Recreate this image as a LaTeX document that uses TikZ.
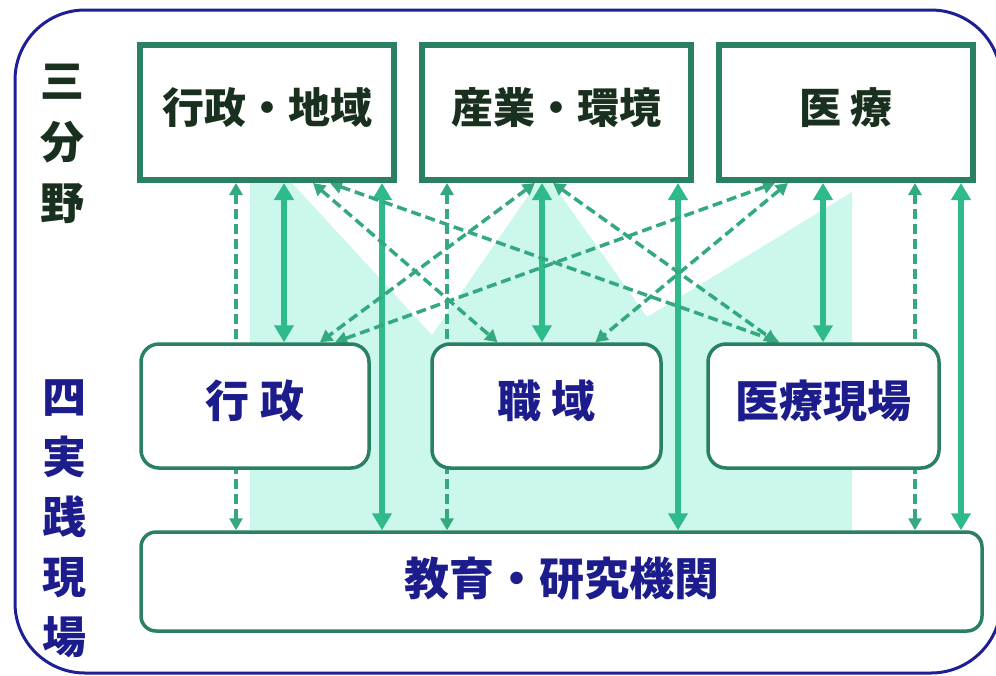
\documentclass[tikz,border=0pt]{standalone}
\usepackage{fontspec}
\newfontfamily\jp{Noto Sans CJK JP}
\usetikzlibrary{arrows.meta}

\definecolor{framenavy}{RGB}{30,30,150}
\definecolor{boxgreen}{RGB}{42,128,98}
\definecolor{arrowgreen}{RGB}{46,186,138}
\definecolor{dashgreen}{RGB}{52,168,126}
\definecolor{mint}{RGB}{204,247,237}
\definecolor{textgreen}{RGB}{25,48,30}
\definecolor{textnavy}{RGB}{28,28,140}

\pgfdeclarelayer{back}
\pgfdeclarelayer{links}
\pgfsetlayers{back,links,main}

\begin{document}
\begin{tikzpicture}[x=1pt,y=-1pt,
    field/.style={draw=boxgreen, line width=6pt, fill=white, minimum height=135pt,
      inner sep=0pt, text depth=13pt, text=textgreen,
      font=\jp\bfseries\fontsize{42}{42}\selectfont},
    site/.style={draw=boxgreen, line width=3.5pt, fill=white, rounded corners=18pt,
      minimum height=124pt, inner sep=0pt, text depth=15pt, text=textnavy,
      font=\jp\bfseries\fontsize{44}{44}\selectfont},
    solidarr/.style={draw=arrowgreen, line width=5.5pt,
      {Triangle[length=17pt,width=19pt]}-{Triangle[length=17pt,width=19pt]}},
    dasharr/.style={draw=dashgreen, line width=3.5pt, dash pattern=on 10pt off 5pt,
      {Triangle[length=12pt,width=13pt]}-{Triangle[length=12pt,width=13pt]}}]
    \useasboundingbox (0,0) rectangle (996,675);

    \draw [framenavy, line width=3pt, rounded corners=70pt] (15,10) rectangle (1001,673);

    % side labels
    \node [text=textgreen, align=center, font=\jp\bfseries\fontsize{44}{61}\selectfont]
      (sanbunya) at (62,144) {三\\分\\野};
    \node [text=textnavy, align=center, font=\jp\bfseries\fontsize{44}{60}\selectfont]
      (yonjissen) at (64,519) {四\\実\\践\\現\\場};

    % three fields
    \node [field, minimum width=254pt] (gyochi) at (267,112.5) {行政・地域};
    \node [field, minimum width=269pt] (sangyo) at (556,112.5) {産業・環境};
    \node [field, minimum width=254pt] (iryo)   at (846,112.5) {医 療};

    % four sites
    \node [site, minimum width=228pt] (gyosei)   at (255,406)   {行 政};
    \node [site, minimum width=229pt] (shokuiki) at (546.5,406) {職 域};
    \node [site, minimum width=231pt] (genba)    at (823.5,406) {医療現場};
    \node [site, minimum width=841pt, minimum height=99pt, rounded corners=15pt, text depth=11pt,
      font=\jp\bfseries\fontsize{45}{45}\selectfont] (kyoiku) at (561.5,581.5) {教育・研究機関};

    \begin{pgfonlayer}{back}
      \fill [mint] (250,183) -- (292,183) -- (432,335) -- (537,183) -- (552,183)
        -- (647,317) -- (852,192) -- (852,530) -- (250,530) -- cycle;
    \end{pgfonlayer}

    \begin{pgfonlayer}{links}
      \draw [dasharr]  ([xshift=-31pt]gyochi.south) -- ([xshift=-31pt]gyochi.south |- kyoiku.north);
      \draw [solidarr] ([xshift=17pt]gyochi.south) -- ([xshift=17pt]gyochi.south |- gyosei.north);
      \draw [solidarr] ([xshift=115pt]gyochi.south) -- ([xshift=115pt]gyochi.south |- kyoiku.north);

      \draw [dasharr]  ([xshift=-109pt]sangyo.south) -- ([xshift=-109pt]sangyo.south |- kyoiku.north);
      \draw [solidarr] ([xshift=-14pt]sangyo.south) -- ([xshift=-14pt]sangyo.south |- shokuiki.north);
      \draw [solidarr] ([xshift=122pt]sangyo.south) -- ([xshift=122pt]sangyo.south |- kyoiku.north);

      \draw [solidarr] ([xshift=-23pt]iryo.south) -- ([xshift=-23pt]iryo.south |- genba.north);
      \draw [dasharr]  ([xshift=69pt]iryo.south) -- ([xshift=69pt]iryo.south |- kyoiku.north);
      \draw [solidarr] ([xshift=115pt]iryo.south) -- ([xshift=115pt]iryo.south |- kyoiku.north);

      % crossing links
      \draw [dasharr] ([xshift=46pt]gyochi.south) -- ([xshift=-49pt]shokuiki.north);
      \draw [dasharr] ([xshift=63pt]gyochi.south) -- ([xshift=-44pt]genba.north);
      \draw [dasharr] ([xshift=-21pt]sangyo.south) -- ([xshift=65pt]gyosei.north);
      \draw [dasharr] ([xshift=-3pt]sangyo.south) -- ([xshift=-47pt]genba.north);
      \draw [dasharr] ([xshift=-71pt]iryo.south) -- ([xshift=80pt]gyosei.north);
      \draw [dasharr] ([xshift=-58pt]iryo.south) -- ([xshift=49pt]shokuiki.north);
    \end{pgfonlayer}
  \end{tikzpicture}
\end{document}
